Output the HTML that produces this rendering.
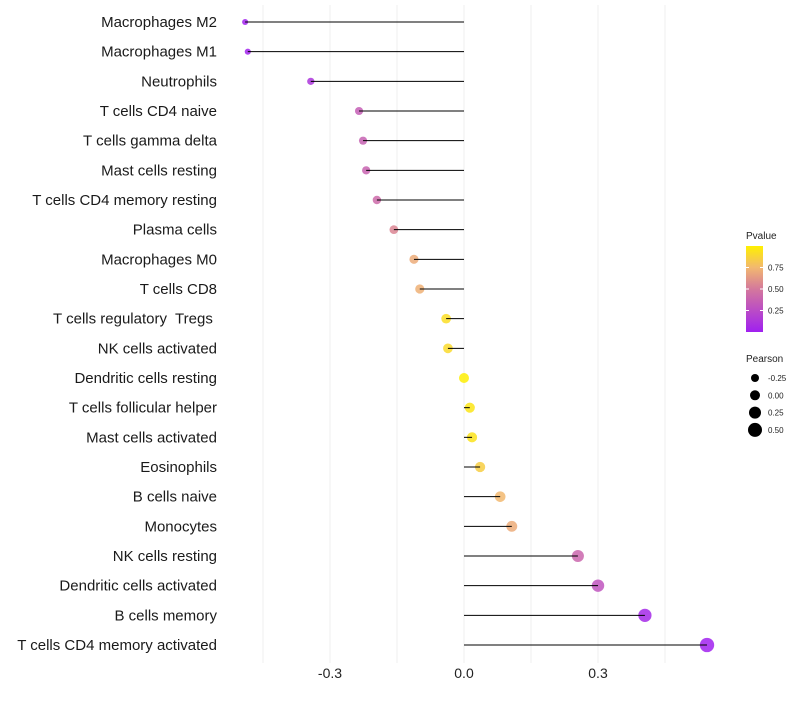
<!DOCTYPE html>
<html><head><meta charset="utf-8"><style>
body{margin:0;background:#fff;font-family:"Liberation Sans",sans-serif}
text{white-space:pre}
</style></head><body>
<svg id="chart" width="800" height="700" xmlns="http://www.w3.org/2000/svg">
<defs><linearGradient id="pg" x1="0" y1="1" x2="0" y2="0">
<stop offset="0" stop-color="#A020F0"/><stop offset="0.5" stop-color="#D4789C"/><stop offset="0.75" stop-color="#F2B870"/><stop offset="1" stop-color="#FFF000"/>
</linearGradient></defs>
<g id="grid"></g><g id="dots"></g><g id="stems"></g><g id="labels"></g><g id="legend"></g>
</svg>
<script>
const categories=["Macrophages M2","Macrophages M1","Neutrophils","T cells CD4 naive","T cells gamma delta","Mast cells resting","T cells CD4 memory resting","Plasma cells","Macrophages M0","T cells CD8","T cells regulatory  Tregs ","NK cells activated","Dendritic cells resting","T cells follicular helper","Mast cells activated","Eosinophils","B cells naive","Monocytes","NK cells resting","Dendritic cells activated","B cells memory","T cells CD4 memory activated"];
const pearson=[-0.49,-0.484,-0.343,-0.235,-0.226,-0.219,-0.195,-0.157,-0.112,-0.099,-0.040,-0.036,0.0,0.013,0.018,0.036,0.081,0.107,0.255,0.30,0.405,0.544];
const pvalues=[0.01,0.02,0.12,0.35,0.37,0.38,0.42,0.55,0.70,0.72,0.92,0.90,0.99,0.95,0.94,0.85,0.75,0.70,0.40,0.30,0.05,0.01];
const xTicks=[-0.3,0.0,0.3];
const xTickLabels=["-0.3","0.0","0.3"];
const gridVals=[-0.45,-0.3,-0.15,0,0.15,0.3,0.45];
const pTicks=[0.25,0.5,0.75];
const sizeVals=[-0.25,0,0.25,0.5];
const sizeLabels=["-0.25","0.00","0.25","0.50"];

const NS="http://www.w3.org/2000/svg";
const x=v=>464+v*446.7;
const y=i=>22+i*29.667;
const r=v=>Math.max(1.5,5+4*v);
const stops=[[0,[160,32,240]],[0.5,[212,120,156]],[0.75,[242,184,112]],[1,[255,240,0]]];
function col(p){for(let k=1;k<stops.length;k++){if(p<=stops[k][0]){const a=stops[k-1],b=stops[k],t=(p-a[0])/(b[0]-a[0]);return "rgb("+a[1].map((c,j)=>Math.round(c+(b[1][j]-c)*t)).join(",")+")";}}return "rgb(255,240,0)";}
function mk(tag,attrs,parent){const e=document.createElementNS(NS,tag);for(const k in attrs)e.setAttribute(k,attrs[k]);parent.appendChild(e);return e;}
const grid=document.getElementById("grid"),dots=document.getElementById("dots"),stems=document.getElementById("stems"),labels=document.getElementById("labels"),legend=document.getElementById("legend");
gridVals.forEach(v=>{const l=mk("line",{x1:x(v),x2:x(v),y1:5,y2:663,stroke:"#efefef","stroke-width":1},grid);

});
xTicks.forEach((v,i)=>{const t=mk("text",{x:x(v),y:678,"text-anchor":"middle","font-size":14,fill:"#222"},labels);t.textContent=xTickLabels[i];

});
categories.forEach((c,i)=>{
const t=mk("text",{x:217,y:y(i)+5,"text-anchor":"end","font-size":15,fill:"#1a1a1a"},labels);t.textContent=c;


const d=mk("circle",{cx:x(pearson[i]),cy:y(i),r:r(pearson[i]),fill:col(pvalues[i]),"fill-opacity":0.85},dots);


const s=mk("line",{x1:x(0),x2:x(pearson[i]),y1:y(i),y2:y(i),stroke:"#000","stroke-width":1},stems);


});
let t=mk("text",{x:746,y:239,"font-size":10,fill:"#222"},legend);t.textContent="Pvalue";


const cb=mk("rect",{x:746,y:246,width:17,height:86,fill:"url(#pg)"},legend);


const py=p=>332-p*86;
pTicks.forEach(p=>{const tk=mk("line",{x1:746,x2:749,y1:py(p),y2:py(p),stroke:"#fff"},legend);


const tk2=mk("line",{x1:760,x2:763,y1:py(p),y2:py(p),stroke:"#fff"},legend);


const lt=mk("text",{x:768,y:py(p)+3,"font-size":8,fill:"#222"},legend);lt.textContent=p.toFixed(2);

});
t=mk("text",{x:746,y:362,"font-size":10,fill:"#222"},legend);t.textContent="Pearson";


sizeVals.forEach((v,i)=>{const cy=378+i*17.3;
const c=mk("circle",{cx:755,cy:cy,r:r(v),fill:"#000"},legend);


const lt=mk("text",{x:768,y:cy+3,"font-size":8,fill:"#222"},legend);lt.textContent=sizeLabels[i];

});
</script>
</body></html>
